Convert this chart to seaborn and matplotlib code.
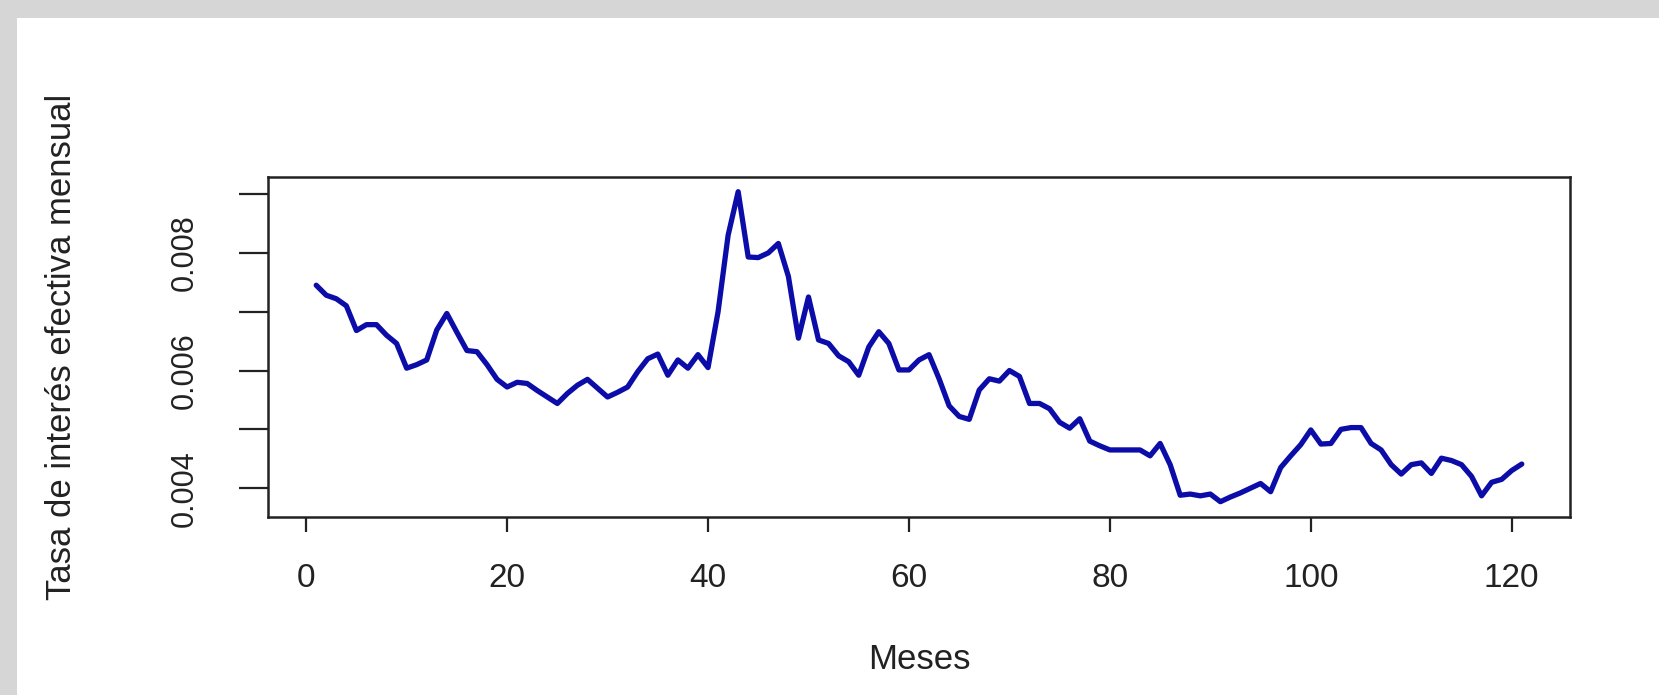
import numpy as np
import pandas as pd
import matplotlib
matplotlib.use("Agg")
import matplotlib.pyplot as plt
import seaborn as sns
from matplotlib.patches import Rectangle

# Monthly effective interest rate
meses = list(range(1, 122))
tasa = [
    0.00745, 0.00728, 0.00722, 0.00710, 0.00668, 0.00678, 0.00678, 0.00660, 0.00646, 0.00604,
    0.00610, 0.00618, 0.00669, 0.00697, 0.00665, 0.00634, 0.00632, 0.00610, 0.00585, 0.00572,
    0.00580, 0.00578, 0.00566, 0.00555, 0.00544, 0.00561, 0.00575, 0.00585, 0.00570, 0.00555,
    0.00563, 0.00572, 0.00598, 0.00620, 0.00628, 0.00592, 0.00618, 0.00604, 0.00627, 0.00605,
    0.00700, 0.00830, 0.00904, 0.00793, 0.00792, 0.00800, 0.00816, 0.00760, 0.00655, 0.00725,
    0.00652, 0.00646, 0.00625, 0.00615, 0.00592, 0.00640, 0.00666, 0.00646, 0.00601, 0.00601,
    0.00618, 0.00627, 0.00586, 0.00540, 0.00522, 0.00517, 0.00567, 0.00586, 0.00582, 0.00600,
    0.00590, 0.00544, 0.00544, 0.00535, 0.00512, 0.00502, 0.00518, 0.00480, 0.00472, 0.00465,
    0.00465, 0.00465, 0.00465, 0.00455, 0.00476, 0.00440, 0.00388, 0.00390, 0.00387, 0.00390,
    0.00377, 0.00385, 0.00392, 0.00400, 0.00408, 0.00394, 0.00435, 0.00455, 0.00474, 0.00499,
    0.00475, 0.00476, 0.00500, 0.00503, 0.00503, 0.00476, 0.00465, 0.00440, 0.00424, 0.00440,
    0.00443, 0.00425, 0.00451, 0.00447, 0.00440, 0.00420, 0.00387, 0.00410, 0.00415, 0.00430,
    0.00441,
]
xticks = [0, 20, 40, 60, 80, 100, 120]
yticks = [0.004, 0.005, 0.006, 0.007, 0.008, 0.009]
ytick_labels = ["0.004", "", "0.006", "", "0.008", ""]

df = pd.DataFrame({"Meses": meses, "Tasa": tasa})

sns.set_style("white")
plt.rcParams["font.family"] = ["Liberation Sans", "DejaVu Sans"]

fig = plt.figure(figsize=(16.59, 6.95), dpi=100, facecolor="#d6d6d6")
# white page inside the gray frame (top and left)
fig.add_artist(Rectangle((17 / 1659, 0), 1, 1 - 18 / 695, transform=fig.transFigure,
                         facecolor="white", edgecolor="none", zorder=0))
ax = fig.add_axes([268 / 1659, 1 - 517 / 695, (1570 - 268) / 1659, (517 - 177) / 695])
ax.set_facecolor("white")

sns.lineplot(data=df, x="Meses", y="Tasa", ax=ax, color="#0c0ca8", linewidth=3.8)

ax.set_xlim(-3.8, 125.8)
ax.set_ylim(0.00351, 0.00929)
ax.set_xticks(xticks)
ax.set_xticklabels([str(t) for t in xticks], fontsize=24, color="#222222")
ax.set_yticks(yticks)
ax.set_yticklabels(ytick_labels, fontsize=22, rotation=90, va="center", color="#222222")

ax.tick_params(axis="x", bottom=True, direction="out", length=11, width=1.6, pad=22, colors="#222222")
ax.tick_params(axis="y", left=True, direction="out", length=21, width=1.6, pad=28, colors="#222222")
for sp in ax.spines.values():
    sp.set_visible(True)
    sp.set_linewidth(1.8)
    sp.set_color("#222222")

ax.set_xlabel("Meses", fontsize=25, color="#222222")
ax.set_ylabel("Tasa de interés efectiva mensual", fontsize=25, color="#222222")
ax.xaxis.set_label_coords(0.5, -0.37)
ax.yaxis.set_label_coords(-0.146, 0.5)

fig.savefig("out.png", dpi=100, facecolor=fig.get_facecolor())
